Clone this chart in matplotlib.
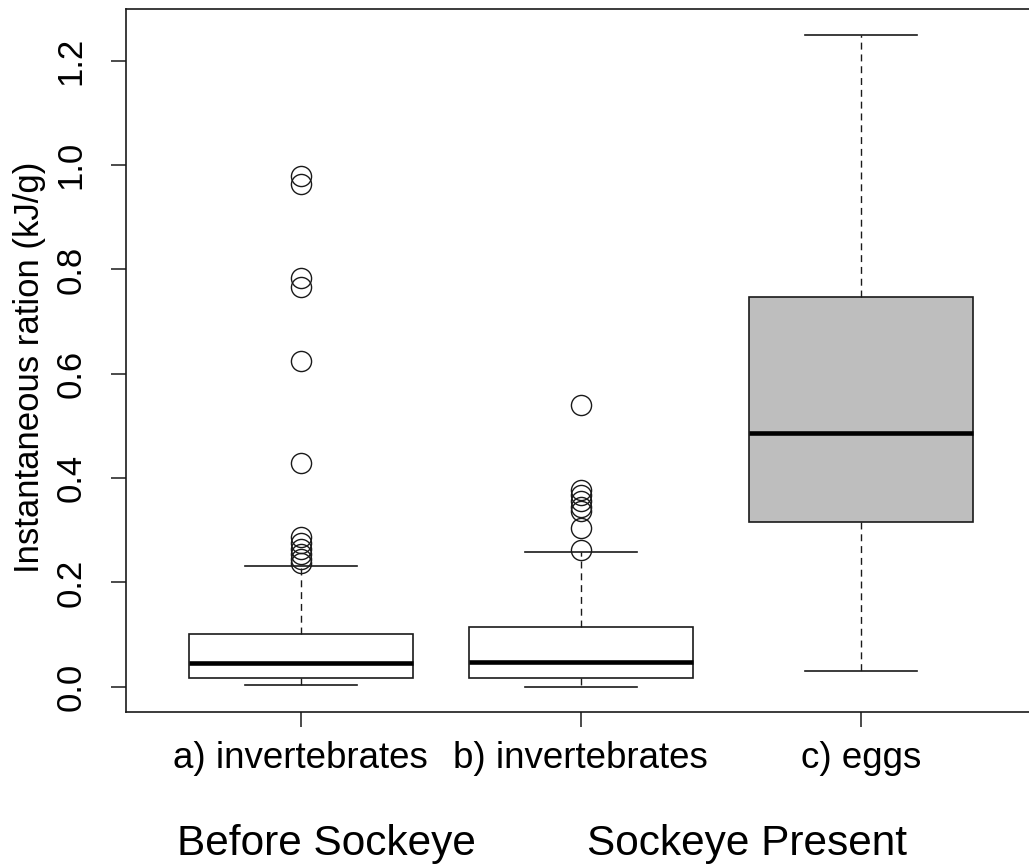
'''
Boxplot of instantaneous ration before and after sockeye arrival.
'''
import matplotlib
matplotlib.use('Agg')
import matplotlib.pyplot as plt

# box statistics
groups = ['a) invertebrates', 'b) invertebrates', 'c) eggs']
whis_lo = [0.003, 0.0, 0.031]
q1 = [0.017, 0.016, 0.316]
medians = [0.045, 0.048, 0.487]
q3 = [0.102, 0.1145, 0.7475]
whis_hi = [0.232, 0.2576, 1.25]
fliers_a = [0.237, 0.245, 0.255, 0.265, 0.275, 0.287, 0.429, 0.625, 0.766, 0.783, 0.963, 0.98]
fliers_b = [0.263, 0.304, 0.337, 0.345, 0.357, 0.368, 0.378, 0.54]
fliers_c = []
box_colors = ['white', 'white', '#BEBEBE']

y_ticks = [0.0, 0.2, 0.4, 0.6, 0.8, 1.0, 1.2]
period_labels = ['Before Sockeye', 'Sockeye Present']

plt.rcParams['font.family'] = ['Liberation Sans', 'DejaVu Sans']


def build_stats():
    fliers = [fliers_a, fliers_b, fliers_c]
    stats = []
    for i in range(len(groups)):
        stats.append({'med': medians[i], 'q1': q1[i], 'q3': q3[i],
                      'whislo': whis_lo[i], 'whishi': whis_hi[i],
                      'fliers': fliers[i], 'label': groups[i]})
    return stats


def main():
    fig = plt.figure(figsize=(10.29, 8.65), dpi=100)
    ax = fig.add_axes([0.1222, 0.1765, 0.8846, 0.8127])

    line_col = '#1a1a1a'
    bp = ax.bxp(build_stats(), positions=[1, 2, 3], widths=0.8,
                capwidths=0.4, patch_artist=True,
                boxprops=dict(edgecolor=line_col, linewidth=1.2),
                medianprops=dict(color='black', linewidth=3.3),
                whiskerprops=dict(color=line_col, linewidth=1.0,
                                  linestyle=(0, (5, 3.5))),
                capprops=dict(color=line_col, linewidth=1.2),
                flierprops=dict(marker='o', markersize=14.5,
                                markerfacecolor='none',
                                markeredgecolor=line_col,
                                markeredgewidth=1.0))
    for patch, c in zip(bp['boxes'], box_colors):
        patch.set_facecolor(c)

    ax.set_xlim(0.375, 3.625)
    ax.set_ylim(-0.049, 1.2985)

    ax.set_yticks(y_ticks)
    ax.set_yticklabels(['%.1f' % v for v in y_ticks])
    ax.tick_params(axis='y', labelrotation=90, length=10.5, width=1.1,
                   pad=17, labelsize=25, color=line_col)
    ax.tick_params(axis='x', length=10.5, width=1.1, pad=10,
                   labelsize=26.5, color=line_col)
    for lab in ax.get_yticklabels():
        lab.set_verticalalignment('center')

    for s in ax.spines.values():
        s.set_linewidth(1.2)
        s.set_color(line_col)

    fig.text(0.029, 0.575, 'Instantaneous ration (kJ/g)', rotation=90,
             ha='center', va='center', fontsize=25)

    fig.text(326 / 1029, 1 - 844 / 865, period_labels[0],
             ha='center', va='center', fontsize=30.5)
    fig.text(747 / 1029, 1 - 844 / 865, period_labels[1],
             ha='center', va='center', fontsize=30.5)

    fig.savefig('out.png', dpi=100)


if __name__ == '__main__':
    main()
